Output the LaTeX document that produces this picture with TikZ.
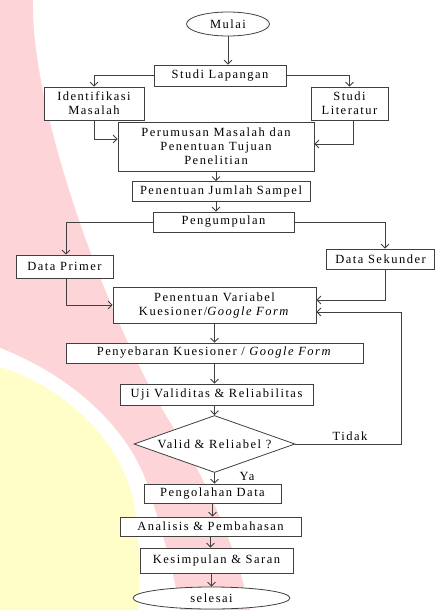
\documentclass[tikz,border=0pt]{standalone}
\usepackage{fontspec}
\setmainfont{Liberation Serif}[LetterSpace=12]
\usetikzlibrary{shapes.geometric,arrows.meta}
\definecolor{bgpink}{HTML}{FDD5D9}
\definecolor{bgyellow}{HTML}{FFFDC8}
\definecolor{garis}{HTML}{404040}
\tikzset{
  kotak/.style={draw=garis, fill=white, inner sep=1pt, align=center},
  oval/.style={kotak, shape=ellipse, inner sep=0pt},
  panah/.style={draw=garis, -{Straight Barb[length=4pt,width=8pt]}},
}
\begin{document}
\begin{tikzpicture}[x=1pt, y=-1pt, line width=0.8pt, font=\fontsize{12.5}{14}\selectfont]
\useasboundingbox (0,0) rectangle (435,610);
\begin{scope}
\clip (0,0) rectangle (435,610);
\fill[bgpink] (0,0) -- (33,0) .. controls (30,110) and (110,330) .. (175,430)
  .. controls (200,470) and (235,540) .. (250,610) -- (0,610) -- cycle;
\fill[white] (0,348) .. controls (70,375) and (135,430) .. (152,500)
  .. controls (165,540) and (175,580) .. (180,610) -- (0,610) -- cycle;
\fill[bgyellow] (0,367) .. controls (60,385) and (125,440) .. (135,510)
  .. controls (140,550) and (140,580) .. (138,610) -- (0,610) -- cycle;
\end{scope}

\node[oval, minimum width=83pt, minimum height=24pt] (mulai) at (228,24) {Mulai};
\node[kotak, minimum width=132pt, minimum height=21pt] (lapangan) at (220,75.5) {Studi Lapangan};
\node[kotak, minimum width=100pt, minimum height=33pt] (identifikasi) at (94,103.5) {Identifikasi\\Masalah};
\node[kotak, minimum width=77pt, minimum height=33pt] (literatur) at (349.5,103.5) {Studi\\Literatur};
\node[kotak, minimum width=196pt, minimum height=49pt] (rumusan) at (216,146.5) {Perumusan Masalah dan\\Penentuan Tujuan\\Penelitian};
\node[kotak, minimum width=178pt, minimum height=20pt] (sampel) at (221,191.5) {Penentuan Jumlah Sampel};
\node[kotak, minimum width=141pt, minimum height=20pt] (kumpul) at (223.5,222) {Pengumpulan};
\node[kotak, minimum width=97pt, minimum height=23pt] (primer) at (64.5,266.5) {Data Primer};
\node[kotak, minimum width=108pt, minimum height=20pt] (sekunder) at (380.5,259) {Data Sekunder};
\node[kotak, minimum width=203pt, minimum height=36pt] (variabel) at (214.5,305) {Penentuan Variabel\\Kuesioner/\textit{Google Form}};
\node[kotak, minimum width=297pt, minimum height=20pt] (sebar) at (214.5,353) {Penyebaran Kuesioner / \textit{Google Form}};
\node[kotak, minimum width=193pt, minimum height=21pt] (uji) at (216.5,394.5) {Uji Validitas \& Reliabilitas};
\node[kotak, shape=diamond, aspect=2.8, inner sep=0pt, minimum width=161pt, minimum height=57pt] (valid) at (214.5,444) {Valid \& Reliabel ?};
\node[kotak, minimum width=137pt, minimum height=19pt] (olah) at (212.5,493.5) {Pengolahan Data};
\node[kotak, minimum width=181pt, minimum height=19pt] (analisis) at (210.5,526.5) {Analisis \& Pembahasan};
\node[kotak, minimum width=153pt, minimum height=25pt] (simpul) at (216.5,560.5) {Kesimpulan \& Saran};
\node[oval, minimum width=157pt, minimum height=22pt] (selesai) at (211.5,598) {selesai};

\draw[panah] (mulai.south) -- (mulai.south |- lapangan.north);
\draw[panah] (lapangan.west) -| (identifikasi.north);
\draw[panah] (lapangan.east) -| (literatur.north);
\draw[panah] (identifikasi.south) |- ([yshift=7.5pt]rumusan.west);
\draw[panah] ([xshift=4pt]literatur.south) |- ([yshift=2.5pt]rumusan.east);
\draw[panah] (rumusan.south) -- (rumusan.south |- sampel.north);
\draw[panah] (rumusan.south |- sampel.south) -- (rumusan.south |- kumpul.north);
\draw[panah] (kumpul.west) -| ([xshift=1.5pt]primer.north);
\draw[panah] (kumpul.east) -| ([xshift=4.5pt]sekunder.north);
\draw[panah] ([xshift=1.5pt]primer.south) |- (variabel.west);
\draw[panah] ([xshift=4.5pt]sekunder.south) |- ([yshift=5pt]variabel.east);
\draw[panah] (variabel.south) -- (sebar.north);
\draw[panah] (sebar.south) -- (sebar.south |- uji.north);
\draw[panah] (valid.north |- uji.south) -- (valid.north);
\draw[panah] (valid.east) -- (401,444) |- ([yshift=-7pt]variabel.east);
\draw[panah] (valid.south) -- (valid.south |- olah.north);
\draw[panah] (olah.south) -- (olah.south |- analisis.north);
\draw[panah] (analisis.south) -- (analisis.south |- simpul.north);
\draw[panah] (selesai.north |- simpul.south) -- (selesai.north);

\node (tidak) at (350,436) {Tidak};
\node (ya) at (247,476) {Ya};
\end{tikzpicture}
\end{document}
